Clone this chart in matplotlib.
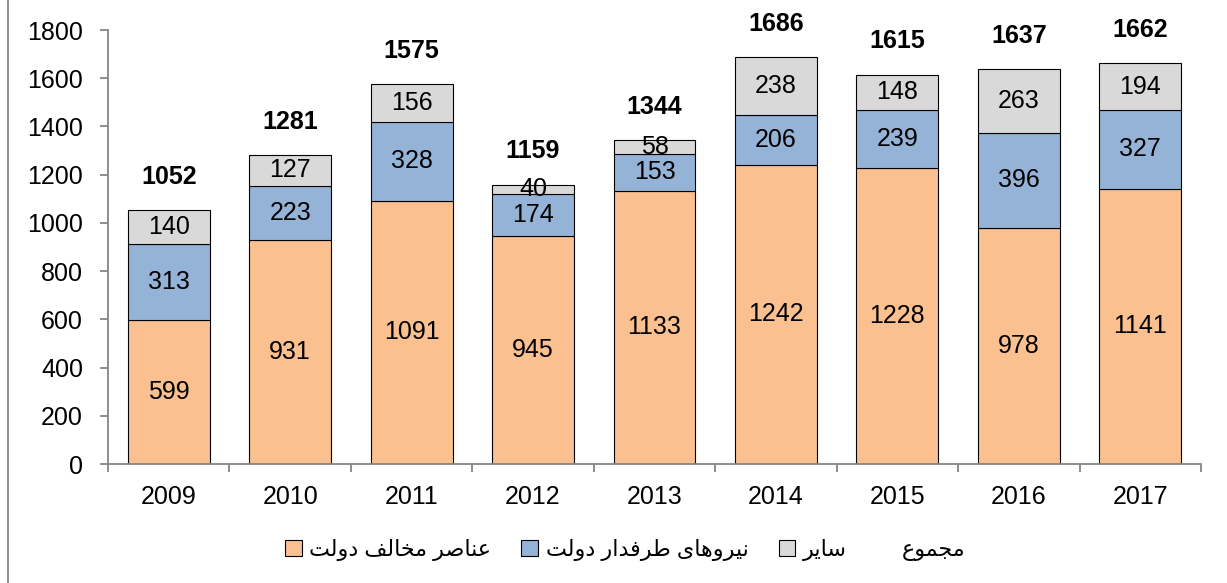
import matplotlib
matplotlib.use("Agg")
import matplotlib.pyplot as plt
import matplotlib.patches as mpatches
import matplotlib.lines as mlines
import numpy as np

plt.rcParams['font.family'] = ['Liberation Sans', 'DejaVu Sans']

years = ['2009', '2010', '2011', '2012', '2013', '2014', '2015', '2016', '2017']
anti_gov = [599, 931, 1091, 945, 1133, 1242, 1228, 978, 1141]
pro_gov = [313, 223, 328, 174, 153, 206, 239, 396, 327]
other = [140, 127, 156, 40, 58, 238, 148, 263, 194]
total = [1052, 1281, 1575, 1159, 1344, 1686, 1615, 1637, 1662]

# legend texts, Persian written in shaped presentation forms (visual order)
# because matplotlib does no Arabic shaping/bidi by itself
lbl_anti = '\uFE96\uFEDF\uFEED\uFEA9 \uFED2\uFEDF\uFE8E\uFEA8\uFEE3 \uFEAE\uFEBB\uFE8E\uFEE8\uFECB'      # عناصر مخالف دولت
lbl_pro = '\uFE96\uFEDF\uFEED\uFEA9 \uFEAD\uFE8D\uFEAA\uFED3\uFEAE\uFEC3 \uFEEF\uFE8E\uFEEB\uFEED\uFEAE\uFEF4\uFEE7'  # نیروهای طرفدار دولت
lbl_other = '\uFEAE\uFEF3\uFE8E\uFEB3'          # سایر
lbl_total = '\uFEC9\uFEEE\uFEE4\uFEA0\uFEE3'    # مجموع

c_anti = '#FAC090'
c_pro = '#95B3D7'
c_other = '#D9D9D9'
axis_c = '#868686'

fig = plt.figure(figsize=(12.27, 5.83), dpi=100)
ax = fig.add_axes([108/1227, 1 - 464/583, (1201-108)/1227, (464-30)/583])

x = np.arange(len(years))
w = 0.675
b1 = ax.bar(x, anti_gov, w, color=c_anti, edgecolor='black', linewidth=0.8)
b2 = ax.bar(x, pro_gov, w, bottom=anti_gov, color=c_pro, edgecolor='black', linewidth=0.8)
bot3 = np.array(anti_gov) + np.array(pro_gov)
b3 = ax.bar(x, other, w, bottom=bot3, color=c_other, edgecolor='black', linewidth=0.8)

for bars in (b1, b2, b3):
    ax.bar_label(bars, label_type='center', fontsize=18, color='black')

for i in range(len(years)):
    ax.annotate(str(total[i]), (x[i], total[i]), xytext=(0, 24), textcoords='offset points',
                ha='center', va='center', fontsize=18, fontweight='bold', annotation_clip=False)

ax.set_xlim(-0.5, len(years) - 0.5)
ax.set_ylim(0, 1800)
ax.set_yticks(np.arange(0, 1801, 200))
ax.set_xticks(x)
ax.set_xticklabels(years)
ax.set_xticks(np.arange(-0.5, len(years)), minor=True)

for s in ('top', 'right'):
    ax.spines[s].set_visible(False)
for s in ('left', 'bottom'):
    ax.spines[s].set_color(axis_c)
    ax.spines[s].set_linewidth(1.3)

ax.tick_params(axis='y', length=6, width=1.3, color=axis_c, pad=12, labelsize=18)
ax.tick_params(axis='x', which='major', length=0, pad=15, labelsize=18)
ax.tick_params(axis='x', which='minor', length=6, width=1.3, color=axis_c)

handles = [
    mpatches.Patch(facecolor=c_anti, edgecolor='black', linewidth=0.8),
    mpatches.Patch(facecolor=c_pro, edgecolor='black', linewidth=0.8),
    mpatches.Patch(facecolor=c_other, edgecolor='black', linewidth=0.8),
    mlines.Line2D([], [], color='none'),
]
fig.legend(handles, [lbl_anti, lbl_pro, lbl_other, lbl_total], loc='center',
           bbox_to_anchor=(625/1227, 1 - 550/583), ncol=4, frameon=False,
           fontsize=16, handlelength=0.75, handleheight=0.75, handletextpad=0.35,
           columnspacing=1.35)

# left frame line of the chart area
fig.add_artist(mlines.Line2D([8/1227, 8/1227], [0, 1], color=axis_c, linewidth=1.3))

fig.savefig('out.png', dpi=100)
